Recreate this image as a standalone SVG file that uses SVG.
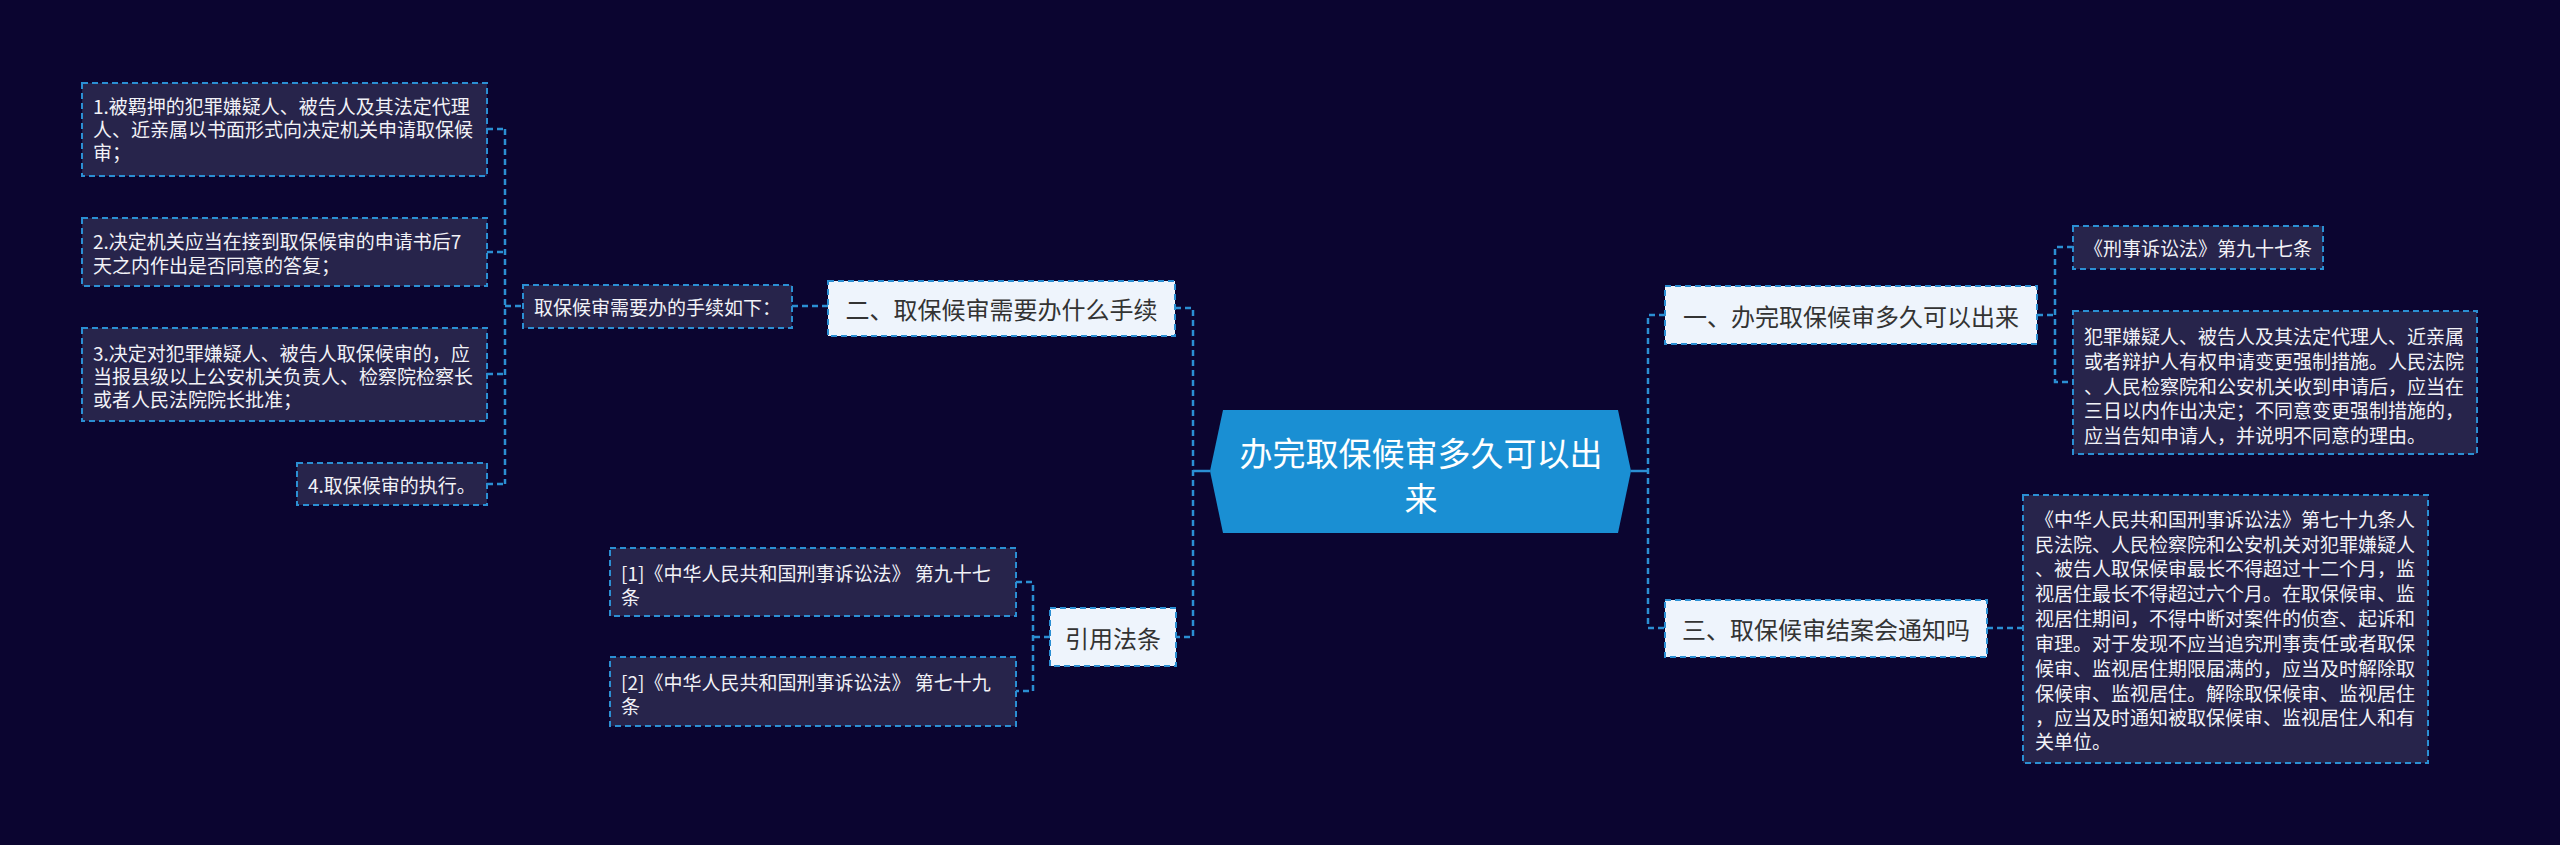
<svg xmlns="http://www.w3.org/2000/svg" width="2560" height="845" viewBox="0 0 2560 845">
<style>
.bg{fill:#0b0530}
.leaf rect{fill:#27244b;stroke:#2b8fd3;stroke-width:2;stroke-dasharray:6 4}
.leaf text{fill:#f2f2f7;font-family:"Noto Sans CJK SC","Microsoft YaHei",sans-serif;font-size:19px;dominant-baseline:central}
.l1 rect{fill:#eef4fc;stroke:#2b8fd3;stroke-width:2;stroke-dasharray:6 4}
.l1 text{fill:#333333;font-family:"Noto Sans CJK SC","Microsoft YaHei",sans-serif;font-size:24px;dominant-baseline:central;text-anchor:middle}
.root polygon{fill:#1a8fd3}
.root text{fill:#ffffff;font-family:"Noto Sans CJK SC","Microsoft YaHei",sans-serif;font-size:33px;dominant-baseline:central;text-anchor:middle}
.conn path{fill:none;stroke:#2b8fd3;stroke-width:2.5;stroke-dasharray:6 4}
.conn path.solid{stroke-dasharray:none}
</style>
<rect class="bg" x="0" y="0" width="2560" height="845"/>
<g id="connectors" class="conn">
<path d="M505 129V484M487 129H505M487 252H505M487 374H505M487 484H505M505 306H523M792 306H828"/>
<path d="M1175 308H1193V637H1176"/>
<path class="solid" d="M1193 471H1210"/>
<path d="M1050 637H1033M1016 582H1033V691H1016"/>
<path class="solid" d="M1631 471H1648"/>
<path d="M1665 315H1648V628H1665"/>
<path d="M2037 315H2055M2073 247H2055V382H2073"/>
<path d="M1987 628H2023"/>
</g>
<g id="root" class="root">
<polygon points="1210,471 1223,410 1618,410 1631,471 1618,533 1223,533"/>
<text x="1421" y="452">办完取保候审多久可以出</text>
<text x="1421" y="497">来</text>
</g>
<g id="n2" class="l1">
<rect x="828" y="281" width="347" height="55"/>
<text x="1001.5" y="308">二、取保候审需要办什么手续</text>
</g>
<g id="n2a" class="leaf">
<rect x="523" y="285" width="269" height="43"/>
<text x="534" y="306">取保候审需要办的手续如下：</text>
</g>
<g id="n2a1" class="leaf">
<rect x="82" y="83" width="405" height="93"/>
<text x="93" y="105">1.被羁押的犯罪嫌疑人、被告人及其法定代理</text>
<text x="93" y="128">人、近亲属以书面形式向决定机关申请取保候</text>
<text x="93" y="151">审；</text>
</g>
<g id="n2a2" class="leaf">
<rect x="82" y="218" width="405" height="68"/>
<text x="93" y="240">2.决定机关应当在接到取保候审的申请书后7</text>
<text x="93" y="264">天之内作出是否同意的答复；</text>
</g>
<g id="n2a3" class="leaf">
<rect x="82" y="328" width="405" height="93"/>
<text x="93" y="352">3.决定对犯罪嫌疑人、被告人取保候审的，应</text>
<text x="93" y="375">当报县级以上公安机关负责人、检察院检察长</text>
<text x="93" y="398">或者人民法院院长批准；</text>
</g>
<g id="n2a4" class="leaf">
<rect x="297" y="463" width="190" height="42"/>
<text x="308" y="484">4.取保候审的执行。</text>
</g>
<g id="n4" class="l1">
<rect x="1050" y="608" width="126" height="58"/>
<text x="1113" y="637">引用法条</text>
</g>
<g id="n4a" class="leaf">
<rect x="610" y="548" width="406" height="68"/>
<text x="621" y="572">[1]《中华人民共和国刑事诉讼法》 第九十七</text>
<text x="621" y="596">条</text>
</g>
<g id="n4b" class="leaf">
<rect x="610" y="657" width="406" height="69"/>
<text x="621" y="681">[2]《中华人民共和国刑事诉讼法》 第七十九</text>
<text x="621" y="705">条</text>
</g>
<g id="n1" class="l1">
<rect x="1665" y="286" width="372" height="58"/>
<text x="1851" y="315">一、办完取保候审多久可以出来</text>
</g>
<g id="n1a" class="leaf">
<rect x="2073" y="226" width="250" height="43"/>
<text x="2084" y="247">《刑事诉讼法》第九十七条</text>
</g>
<g id="n1b" class="leaf">
<rect x="2073" y="311" width="404" height="143"/>
<text x="2084" y="335">犯罪嫌疑人、被告人及其法定代理人、近亲属</text>
<text x="2084" y="360">或者辩护人有权申请变更强制措施。人民法院</text>
<text x="2084" y="385">、人民检察院和公安机关收到申请后，应当在</text>
<text x="2084" y="409">三日以内作出决定；不同意变更强制措施的，</text>
<text x="2084" y="434">应当告知申请人，并说明不同意的理由。</text>
</g>
<g id="n3" class="l1">
<rect x="1665" y="600" width="322" height="57"/>
<text x="1826" y="628">三、取保候审结案会通知吗</text>
</g>
<g id="n3a" class="leaf">
<rect x="2023" y="495" width="405" height="268"/>
<text x="2035" y="518">《中华人民共和国刑事诉讼法》第七十九条人</text>
<text x="2035" y="543">民法院、人民检察院和公安机关对犯罪嫌疑人</text>
<text x="2035" y="567">、被告人取保候审最长不得超过十二个月，监</text>
<text x="2035" y="592">视居住最长不得超过六个月。在取保候审、监</text>
<text x="2035" y="617">视居住期间，不得中断对案件的侦查、起诉和</text>
<text x="2035" y="642">审理。对于发现不应当追究刑事责任或者取保</text>
<text x="2035" y="667">候审、监视居住期限届满的，应当及时解除取</text>
<text x="2035" y="692">保候审、监视居住。解除取保候审、监视居住</text>
<text x="2035" y="716">，应当及时通知被取保候审、监视居住人和有</text>
<text x="2035" y="740">关单位。</text>
</g>
</svg>
